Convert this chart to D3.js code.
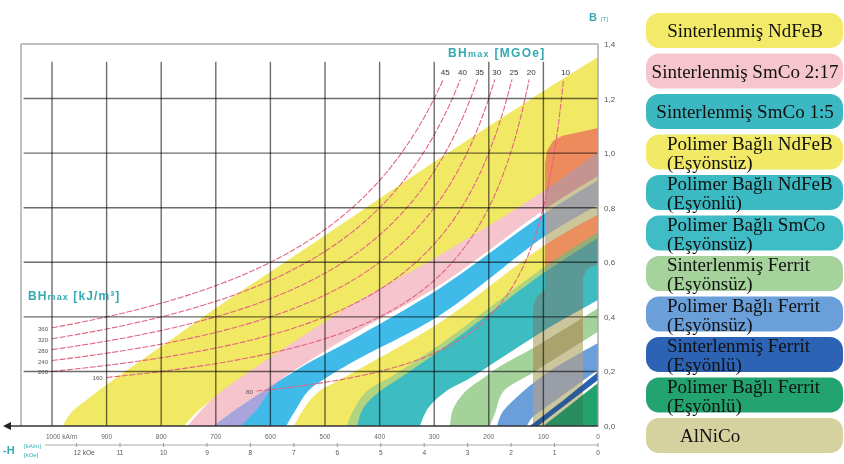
<!DOCTYPE html>
<html><head><meta charset="utf-8">
<script src="https://cdn.jsdelivr.net/npm/d3@7"></script>
<style>
html,body{margin:0;padding:0;background:#fff;}
svg{display:block;}
</style></head>
<body>
<svg id="chart" width="844" height="464"></svg>
<script>
// ================= DATA =================
// axes
const hTicks = [1000,900,800,700,600,500,400,300,200,100,0];          // -H in kA/m
const kOeTicks = [12,11,10,9,8,7,6,5,4,3,2,1,0];                      // -H in kOe
const bTicks = [0,0.2,0.4,0.6,0.8,1.0,1.2,1.4];                       // B in T
const bTickLabels = ["0,0","0,2","0,4","0,6","0,8","1,0","1,2","1,4"];
// BHmax iso-energy lines
const bhKJ = [360,320,280,240,200,160,80];                            // kJ/m3
const bhMGOe = [45,40,35,30,25,20,10];                                // MGOe
const bhStartH = [1000,1000,1000,1000,1000,900,625];                  // kA/m where line starts
const bhEndB = 1.27;                                                  // T where lines end

// material regions: [H kA/m, B T]; upper edge (H rising), lower edge (H falling)
const sinteredNdFeBUpper = [[0,1.352],[125,1.195],[289,0.982],[399,0.835],[491,0.711],[595,0.572],[705,0.425],[778,0.322],[870,0.194],[930,0.106],[967,0.044],[980,0]];
const sinteredNdFeBLower = [[758,0],[730,0.06],[601,0.24],[436,0.45],[289,0.61],[97,0.85],[0,0.99]];
const smCo217Upper = [[0,1.004],[97,0.865],[289,0.627],[436,0.462],[601,0.25],[700,0.11],[735,0.04],[751,0]];
const smCo217Lower = [[654,0],[625,0.06],[592,0.15],[520,0.25],[436,0.352],[289,0.517],[97,0.795],[0,0.916]];
const smCo15Upper = [[0,0.90],[97,0.78],[289,0.506],[436,0.333],[546,0.213],[637,0.095],[670,0.05],[703,0]];
const smCo15Lower = [[571,0],[555,0.055],[530,0.13],[491,0.185],[436,0.249],[289,0.407],[97,0.696],[0,0.81]];
const bondedNdFeBIsoUpper = [[0,0.775],[97,0.663],[289,0.38],[436,0.21],[472,0.17],[515,0.12],[540,0.06],[557,0]];
const bondedNdFeBIsoLower = [[441,0],[432,0.04],[408,0.095],[363,0.16],[289,0.26],[97,0.545],[0,0.67]];
const overlapUpper = [[0,0.71],[97,0.585],[289,0.30],[372,0.19],[425,0.125],[450,0.05],[460,0]];
const overlapLower = [[441,0],[432,0.04],[408,0.095],[363,0.16],[289,0.26],[97,0.545],[0,0.67]];
const bondedAnisoUpper = [[0,0.689],[97,0.564],[289,0.278],[363,0.176],[408,0.114],[432,0.059],[441,0]];
const bondedAnisoLower = [[326,0],[311,0.066],[280,0.125],[234,0.176],[97,0.352],[0,0.462]];
const ferriteIsoUpper = [[0,0.432],[115,0.29],[174,0.225],[207,0.18],[244,0.125],[266,0.06],[271,0]];
const ferriteIsoLower = [[198,0],[188,0.05],[174,0.125],[115,0.2],[0,0.345]];
const bondedFerriteIsoUpper = [[0,0.304],[97,0.19],[152,0.10],[176,0.048],[185,0]];
const bondedFerriteIsoLower = [[130,0],[121,0.03],[97,0.066],[0,0.205]];
const ferriteAnisoUpper = [[0,0.198],[60,0.10],[125,0]];
const ferriteAnisoLower = [[110,0],[0,0.169]];
const bondedFerriteAnisoUpper = [[0,0.158],[100,0]];
const bondedFerriteAnisoLower = [[100,0],[0,0]];
const alnicoOutline = [[119,0],[119,0.44],[112,0.475],[97,0.50],[97,0.96],[93,1.01],[82,1.045],[66,1.063],[0,1.092],[0,0.59],[12,0.585],[22,0.57],[27.5,0.54],[27.5,0]];

// legend
const legendLine1 = ["Sinterlenmiş NdFeB","Sinterlenmiş SmCo 2:17","Sinterlenmiş SmCo 1:5","Polimer Bağlı NdFeB","Polimer Bağlı NdFeB","Polimer Bağlı SmCo","Sinterlenmiş Ferrit","Polimer Bağlı Ferrit","Sinterlenmiş Ferrit","Polimer Bağlı Ferrit","AlNiCo"];
const legendLine2 = ["","","","(Eşyönsüz)","(Eşyönlü)","(Eşyönsüz)","(Eşyönsüz)","(Eşyönsüz)","(Eşyönlü)","(Eşyönlü)",""];

// ================= STYLES =================
const legendColors = ["#f3ea6a","#f6c5cd","#3cb8c2","#f2e966","#3bbac3","#3fbcc5","#a6d29b","#6a9fda","#2d63b4","#22a370","#d6d2a0"];
const bandStyle = [
  {u:sinteredNdFeBUpper, l:sinteredNdFeBLower, fill:"#f1e864", tint:"#ee8b5c"},
  {u:smCo217Upper, l:smCo217Lower, fill:"#f6c4cc", tint:"#c59390"},
  {u:smCo15Upper, l:smCo15Lower, fill:"#3fbae9", tint:"#a2a3a6"},
  {u:bondedNdFeBIsoUpper, l:bondedNdFeBIsoLower, fill:"#f1e864", tint:"#ec8f5e"},
  {u:overlapUpper, l:overlapLower, fill:"#b3d47e", tint:"#97ad77"},
  {u:bondedAnisoUpper, l:bondedAnisoLower, fill:"#3dbdc1", tint:"#5a9995"},
  {u:ferriteIsoUpper, l:ferriteIsoLower, fill:"#a3d39a", tint:"#a9a36d"},
  {u:bondedFerriteIsoUpper, l:bondedFerriteIsoLower, fill:"#6a9fdc", tint:"#9a9ea6"},
  {u:ferriteAnisoUpper, l:ferriteAnisoLower, fill:"#2a62b2", tint:"#2b5a98"},
  {u:bondedFerriteAnisoUpper, l:bondedFerriteAnisoLower, fill:"#21a36b", tint:"#2a8d62"}
];
const lavender = "#a9a4dc";
const alnicoBase = "#cbc69c";
const teal = "#34a9b0";

// ================= DRAW =================
const svg = d3.select("#chart");
const x = d3.scaleLinear().domain([0,1000]).range([598,52]);
const y = d3.scaleLinear().domain([0,1.4]).range([426,44]);
const hLeft = x.invert(21);

const edge = d3.line().x(d=>x(d[0])).y(d=>y(d[1])).curve(d3.curveCatmullRom.alpha(0.5));
const bandPath = b => edge(b.u) + "L" + edge(b.l).slice(1) + "Z";
const outline = d3.line().x(d=>x(d[0])).y(d=>y(d[1])).curve(d3.curveLinearClosed);

const defs = svg.append("defs");
defs.append("clipPath").attr("id","plotClip").append("rect")
  .attr("x",x(hLeft)).attr("y",y(1.4)).attr("width",x(0)-x(hLeft)).attr("height",y(0)-y(1.4));
defs.append("clipPath").attr("id","blueClip").append("path").attr("d",bandPath(bandStyle[2]));
defs.append("clipPath").attr("id","alnicoClip").append("path").attr("d",outline(alnicoOutline));

const gBands = svg.append("g").attr("clip-path","url(#plotClip)");
bandStyle.forEach((b,i)=>{
  gBands.append("path").attr("d",bandPath(b)).attr("fill",b.fill);
  if(i===2){ // overlap of SmCo 2:17 and SmCo 1:5
    gBands.append("path").attr("d",bandPath(bandStyle[1])).attr("fill",lavender).attr("clip-path","url(#blueClip)");
  }
});
// AlNiCo region (tints what lies beneath)
const gTint = gBands.append("g").attr("clip-path","url(#alnicoClip)");
gTint.append("path").attr("d",outline(alnicoOutline)).attr("fill",alnicoBase);
bandStyle.forEach(b=>{ gTint.append("path").attr("d",bandPath(b)).attr("fill",b.tint); });

// BHmax curves
const curveLine = d3.line().x(d=>x(d[0])).y(d=>y(d[1]));
const gCurves = svg.append("g").attr("clip-path","url(#plotClip)");
bhKJ.forEach((E,i)=>{
  const h0 = bhStartH[i], h1 = E/bhEndB;
  const pts = d3.range(0,61).map(k=>{ const h = h0 + (h1-h0)*k/60; return [h, E/h]; });
  gCurves.append("path").attr("d",curveLine(pts)).attr("fill","none")
    .attr("stroke","#e2657f").attr("stroke-width",1.1).attr("stroke-dasharray","6,1.6")
    .style("mix-blend-mode","multiply");
});

// grid
const gGrid = svg.append("g");
hTicks.filter(h=>h>0).forEach(h=>{
  gGrid.append("line").attr("x1",x(h)).attr("x2",x(h)).attr("y1",y(1.335)).attr("y2",y(0))
    .attr("stroke","#6c6c6c").attr("stroke-width",1.4).style("mix-blend-mode","multiply");
});
bTicks.filter(b=>b>0 && b<1.4).forEach(b=>{
  gGrid.append("line").attr("x1",x(1052)).attr("x2",x(0)).attr("y1",y(b)).attr("y2",y(b))
    .attr("stroke","#6c6c6c").attr("stroke-width",1.4).style("mix-blend-mode","multiply");
});
// borders
gGrid.append("line").attr("x1",x(hLeft)).attr("x2",x(0)).attr("y1",y(1.4)).attr("y2",y(1.4)).attr("stroke","#ababab").attr("stroke-width",1.5);
gGrid.append("line").attr("x1",x(hLeft)).attr("x2",x(hLeft)).attr("y1",y(1.4)).attr("y2",y(0)).attr("stroke","#ababab").attr("stroke-width",1.5);
gGrid.append("line").attr("x1",x(0)).attr("x2",x(0)).attr("y1",y(1.4)).attr("y2",y(0)).attr("stroke","#a0a0a0").attr("stroke-width",1.3);
// bottom axis with arrow
gGrid.append("line").attr("x1",9).attr("x2",x(0)).attr("y1",y(0)).attr("y2",y(0)).attr("stroke","#333").attr("stroke-width",1.6);
gGrid.append("path").attr("d",`M3,${y(0)}L11,${y(0)-4}L11,${y(0)+4}Z`).attr("fill","#222");

const font = "'Liberation Sans', Arial, sans-serif";
// kA/m labels
const gAx = svg.append("g").style("font-family",font);
hTicks.forEach(h=>{
  gAx.append("text").attr("x",h===1000? x(h)-6 : x(h)).attr("y",439)
    .attr("text-anchor",h===1000?"start":"middle").attr("font-size",6.5).attr("fill","#666")
    .text(h===1000? "1000 kA/m" : h);
});
// kOe axis
gAx.append("line").attr("x1",45).attr("x2",x(0)).attr("y1",445).attr("y2",445).attr("stroke","#aaa").attr("stroke-width",1);
kOeTicks.forEach(k=>{
  const xx = x(k*79.577);
  gAx.append("line").attr("x1",xx).attr("x2",xx).attr("y1",443).attr("y2",447).attr("stroke","#999");
  gAx.append("text").attr("x",k===12? xx-3 : xx).attr("y",455)
    .attr("text-anchor",k===12?"start":"middle").attr("font-size",6.5).attr("fill","#555")
    .text(k===12? "12 kOe" : k);
});
gAx.append("text").attr("x",3).attr("y",454).attr("font-size",11).attr("font-weight","bold").attr("fill",teal).text("-H");
gAx.append("text").attr("x",24).attr("y",448).attr("font-size",6).attr("fill",teal).text("[kA/m]");
gAx.append("text").attr("x",24).attr("y",457).attr("font-size",6).attr("fill",teal).text("[kOe]");

// B axis labels
bTicks.forEach((b,i)=>{
  gAx.append("text").attr("x",604).attr("y",y(b)+3).attr("font-size",8).attr("fill","#555").text(bTickLabels[i]);
});
gAx.append("text").attr("x",589).attr("y",21).attr("font-size",11).attr("font-weight","bold").attr("fill",teal).text("B");
gAx.append("text").attr("x",601).attr("y",21).attr("font-size",6).attr("fill",teal).text("[T]");

// BHmax titles
const t1 = gAx.append("text").attr("x",448).attr("y",57).attr("fill",teal).attr("font-size",12).attr("letter-spacing",1.3).attr("font-weight","bold");
t1.append("tspan").text("BH");
t1.append("tspan").attr("font-size",9).text("max");
t1.append("tspan").text(" [MGOe]");
const t2 = gAx.append("text").attr("x",28).attr("y",300).attr("fill",teal).attr("font-size",12).attr("letter-spacing",1.1).attr("font-weight","bold");
t2.append("tspan").text("BH");
t2.append("tspan").attr("font-size",9).text("max");
t2.append("tspan").text(" [kJ/m³]");

// BHmax labels
bhKJ.forEach((E,i)=>{
  gAx.append("text").attr("x",x(bhStartH[i])-4).attr("y",y(E/bhStartH[i])+3)
    .attr("text-anchor","end").attr("font-size",6).attr("fill","#555").text(E);
  gAx.append("text").attr("x",x(E/bhEndB)+2).attr("y",75)
    .attr("text-anchor","middle").attr("font-size",8).attr("fill","#333").text(bhMGOe[i]);
});

// legend
const gLeg = svg.append("g").style("font-family","'Liberation Serif', 'Times New Roman', serif");
legendLine1.forEach((t,i)=>{
  const top = 13 + i*40.5;
  gLeg.append("rect").attr("x",646).attr("y",top).attr("width",197).attr("height",35)
    .attr("rx",13).attr("fill",legendColors[i]);
  if(legendLine2[i]===""){
    const alnico = (i===legendLine1.length-1);
    gLeg.append("text").attr("x",alnico?680:745).attr("y",top+24)
      .attr("text-anchor",alnico?"start":"middle").attr("font-size",19).attr("fill","#111").text(t);
  } else {
    gLeg.append("text").attr("x",667).attr("y",top+15).attr("font-size",19).attr("fill","#111").text(t);
    gLeg.append("text").attr("x",667).attr("y",top+34).attr("font-size",19).attr("fill","#111").text(legendLine2[i]);
  }
});
</script>
</body></html>
